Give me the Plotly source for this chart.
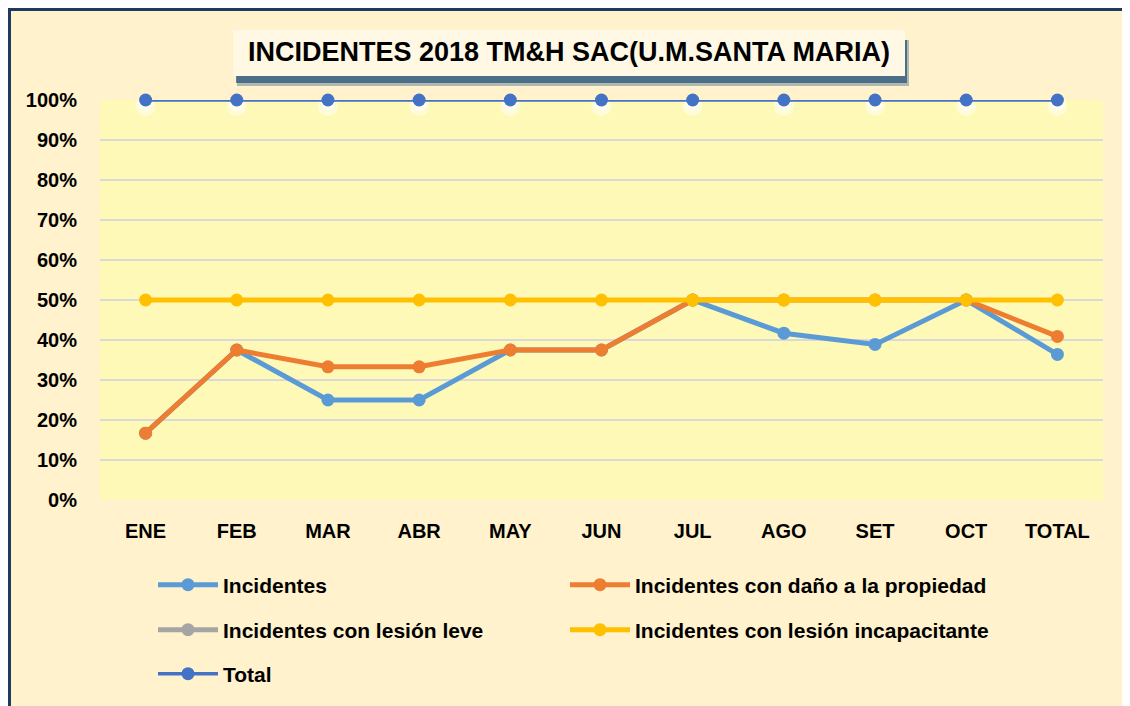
import plotly.graph_objects as go

meses = ["ENE", "FEB", "MAR", "ABR", "MAY", "JUN", "JUL", "AGO", "SET", "OCT", "TOTAL"]

incidentes = [16.7, 37.5, 25.0, 25.0, 37.5, 37.5, 50.0, 41.7, 38.9, 50.0, 36.4]
dano_propiedad = [16.7, 37.5, 33.3, 33.3, 37.5, 37.5, 50.0, 50.0, 50.0, 50.0, 40.9]
lesion_leve = [None] * 11
lesion_incapacitante = [50.0] * 11
total = [100.0] * 11

y_ticks = [0, 10, 20, 30, 40, 50, 60, 70, 80, 90, 100]
y_labels = [f"{v}%" for v in y_ticks]

# page has an 8px body margin; plot area on the page: x 100..1103, y 100..500
OFF = 8
W, H = 1130 - OFF, 706 - OFF
L, R, T, B = 100 - OFF, 27, 100 - OFF, 206
PW, PH = W - L - R, H - T - B


def px(x):
    # page pixel -> paper fraction
    return (x - OFF - L) / PW


def py(y):
    return (T + PH - (y - OFF)) / PH


fnt = "Liberation Sans, Arial, sans-serif"

fig = go.Figure()

series = [
    ("Incidentes", incidentes, "#5B9BD5", "legend"),
    ("Incidentes con daño a la propiedad", dano_propiedad, "#ED7D31", "legend2"),
    ("Incidentes con lesión leve", lesion_leve, "#A5A5A5", "legend3"),
    ("Incidentes con lesión incapacitante", lesion_incapacitante, "#FFC000", "legend4"),
]
for name, vals, col, lg in series:
    fig.add_trace(go.Scatter(
        x=meses, y=vals, name=name, mode="lines+markers",
        line=dict(color=col, width=5), marker=dict(size=13, color=col),
        cliponaxis=False, legend=lg,
    ))

# soft white glow under the Total markers
fig.add_trace(go.Scatter(
    x=meses, y=[v - 1.5 for v in total], mode="markers", showlegend=False,
    marker=dict(size=20, color="rgba(255,255,255,0.45)"), hoverinfo="skip",
    cliponaxis=False,
))
fig.add_trace(go.Scatter(
    x=meses, y=[v - 1.0 for v in total], mode="markers", showlegend=False,
    marker=dict(size=14, color="rgba(255,255,255,0.6)"), hoverinfo="skip",
    cliponaxis=False,
))
fig.add_trace(go.Scatter(
    x=meses, y=total, name="Total", mode="lines+markers",
    line=dict(color="#4472C4", width=3.5), marker=dict(size=13, color="#4472C4"),
    cliponaxis=False, legend="legend5",
))

shapes = [
    # chart frame
    dict(type="rect", xref="paper", yref="paper", layer="below",
         x0=px(9.5), x1=px(1400), y0=py(900), y1=py(9.5),
         fillcolor="#FFF2CC", line=dict(color="#1F3864", width=3)),
    # plot background
    dict(type="rect", xref="x domain", yref="y domain", layer="below",
         x0=0, x1=1, y0=0, y1=1, fillcolor="#FFF9B8", line=dict(width=0)),
    # title shadow
    dict(type="rect", xref="paper", yref="paper", layer="above",
         x0=px(237), x1=px(909), y0=py(86), y1=py(40),
         fillcolor="rgba(31,78,121,0.35)", line=dict(width=0)),
    dict(type="rect", xref="paper", yref="paper", layer="above",
         x0=px(236), x1=px(907), y0=py(83), y1=py(40),
         fillcolor="rgba(31,78,121,0.7)", line=dict(width=0)),
    # title box
    dict(type="rect", xref="paper", yref="paper", layer="above",
         x0=px(233), x1=px(905), y0=py(76), y1=py(30),
         fillcolor="#FFF8E4", line=dict(width=0)),
]

legend_common = dict(
    orientation="h", xanchor="left", yanchor="middle",
    font=dict(family=fnt, size=21, color="#000000", weight="bold"),
    bgcolor="rgba(0,0,0,0)", itemwidth=60,
)

fig.update_layout(
    width=W, height=H,
    margin=dict(l=L, r=R, t=T, b=B),
    paper_bgcolor="#FFFFFF",
    plot_bgcolor="rgba(0,0,0,0)",
    font=dict(family=fnt, color="#000000"),
    shapes=shapes,
    annotations=[dict(
        text="<b>INCIDENTES 2018 TM&H SAC(U.M.SANTA MARIA)</b>",
        xref="paper", yref="paper", x=px(569), y=py(52),
        xanchor="center", yanchor="middle", showarrow=False,
        font=dict(family=fnt, size=27, color="#000000"),
    )],
    xaxis=dict(
        type="category", range=[-0.5, len(meses) - 0.5],
        showgrid=False, zeroline=False, showline=False, ticks="",
        tickfont=dict(family=fnt, size=20, color="#000000", weight="bold"),
        ticklabelstandoff=17,
    ),
    yaxis=dict(
        range=[0, 100], tickvals=y_ticks, ticktext=y_labels,
        showgrid=True, gridcolor="#D9D9D9", gridwidth=2,
        zeroline=False, showline=False, ticks="",
        tickfont=dict(family=fnt, size=20, color="#000000", weight="bold"),
        ticklabelstandoff=22,
    ),
    legend=dict(x=px(153), y=py(585), **legend_common),
    legend2=dict(x=px(565), y=py(585), **legend_common),
    legend3=dict(x=px(153), y=py(630), **legend_common),
    legend4=dict(x=px(565), y=py(630), **legend_common),
    legend5=dict(x=px(153), y=py(674), **legend_common),
    showlegend=True,
)

fig.write_html("out.html")
